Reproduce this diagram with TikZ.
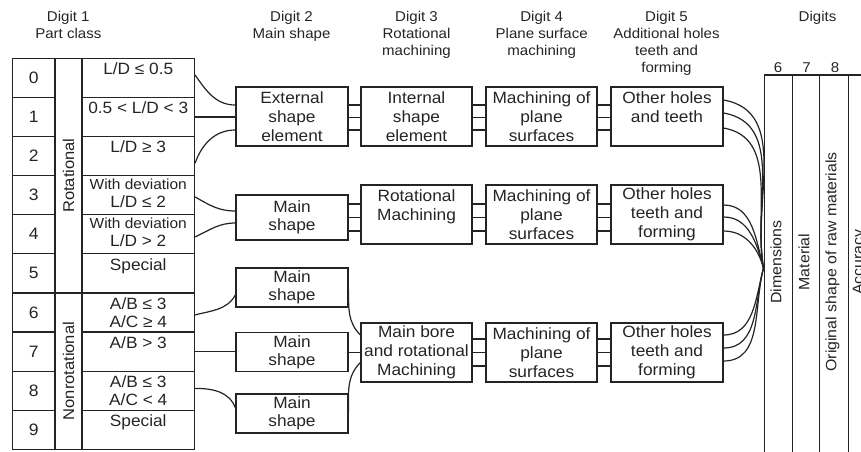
\documentclass[tikz,border=0pt]{standalone}
\usepackage{fontspec}
\setmainfont{Liberation Sans}[FakeStretch=1.06]
\usetikzlibrary{calc}
\definecolor{ink}{gray}{0.14}
\newcommand\setfs[2]{\fontsize{#1}{#2}\selectfont}
\tikzset{
  frame/.style={draw=ink, line width=1.2pt},
  cellbox/.style={frame, inner sep=0pt, minimum height=39.1pt},
  stagebox/.style={frame, inner sep=0pt, align=center, font=\setfs{16.3}{19}},
  head/.style={align=center, anchor=north, inner sep=0pt, font=\setfs{14.2}{16.7}},
  condtext/.style={align=center, anchor=north, inner sep=0pt, font=\setfs{16.3}{18}},
  vlab/.style={rotate=90, inner sep=0pt, font=\setfs{15}{18}},
  link/.style={draw=ink, line width=1.2pt},
}
\begin{document}
\begin{tikzpicture}[x=1pt,y=-1pt,color=ink]
\useasboundingbox (0,0) rectangle (861,451);
\clip (0,0) rectangle (861,451);

% ---- column headings
\node[head] (h1) at (68.3,11.5) {Digit 1\\Part class};
\node[head] (h2) at (291.5,11.5) {Digit 2\\Main shape};
\node[head] (h3) at (416.5,11.5) {Digit 3\\Rotational\\machining};
\node[head] (h4) at (541.7,11.5) {Digit 4\\Plane surface\\machining};
\node[head] (h5) at (666.5,11.5) {Digit 5\\Additional holes\\teeth and\\forming};
\node[head] (h6) at (817.5,11.5) {Digits};
\node[inner sep=0pt, font=\setfs{14.2}{16.7}] (n6) at (778,67.7) {6};
\node[inner sep=0pt, font=\setfs{14.2}{16.7}] (n7) at (806.5,67.7) {7};
\node[inner sep=0pt, font=\setfs{14.2}{16.7}] (n8) at (835,67.7) {8};

% ---- digit 1: part class table
\foreach \i in {0,...,9} {
  \node[cellbox, minimum width=42.3pt, font=\setfs{16.5}{19}] (d\i) at (33.85,{77.85+39.1*\i}) {\i};
  \node[cellbox, minimum width=112.5pt] (c\i) at (138.25,{77.85+39.1*\i}) {};
}
\node[frame, rotate=90, inner sep=0pt, minimum width=234.6pt, minimum height=27pt,
      font=\setfs{15.6}{18}] (rot) at (68.5,175.6) {Rotational};
\node[frame, rotate=90, inner sep=0pt, minimum width=156.4pt, minimum height=27pt,
      font=\setfs{15.6}{18}] (nrot) at (68.5,371.1) {Nonrotational};

\node[condtext] (t0) at ([yshift=-5pt]c0.north) {L/D ≤ 0.5};
\node[condtext] (t1) at ([yshift=-5pt]c1.north) {0.5 < L/D < 3};
\node[condtext] (t2) at ([yshift=-5pt]c2.north) {L/D ≥ 3};
\node[condtext] (t3) at ([yshift=-3.5pt]c3.north) {{\setfs{14.6}{18}With deviation}\\L/D ≤ 2};
\node[condtext] (t4) at ([yshift=-3.5pt]c4.north) {{\setfs{14.6}{18}With deviation}\\L/D > 2};
\node[condtext] (t5) at ([yshift=-5pt]c5.north) {Special};
\node[condtext] (t6) at ([yshift=-5.5pt]c6.north) {A/B ≤ 3\\A/C ≥ 4};
\node[condtext] (t7) at ([yshift=-5pt]c7.north) {A/B > 3};
\node[condtext] (t8) at ([yshift=-4.5pt]c8.north) {A/B ≤ 3\\A/C < 4};
\node[condtext] (t9) at ([yshift=-4.5pt]c9.north) {Special};

% ---- stage boxes, upper chain
\node[stagebox, minimum width=112pt, minimum height=59pt] (es) at (292,116.5) {External\\shape\\element};
\node[stagebox, minimum width=111pt, minimum height=59pt] (is) at (416.5,116.5) {Internal\\shape\\element};
\node[stagebox, minimum width=111pt, minimum height=59pt] (mpa) at (541.5,116.5) {Machining of\\plane\\surfaces};
\node[stagebox, minimum width=112pt, minimum height=59pt] (oha) at (667,116.5) {Other holes\\and teeth\\\mbox{}};

% ---- middle chain
\node[stagebox, minimum width=112pt, minimum height=45pt, font=\setfs{16.3}{18}] (ms) at (292,217.5) {Main\\shape};
\node[stagebox, minimum width=111pt, minimum height=59pt] (rm) at (416.5,214.5) {Rotational\\Machining\\\mbox{}};
\node[stagebox, minimum width=111pt, minimum height=59pt] (mpb) at (541.5,214.5) {Machining of\\plane\\surfaces};
\node[stagebox, minimum width=112pt, minimum height=59pt] (ohb) at (667,214.5) {Other holes\\teeth and\\forming};

% ---- lower chain
\node[stagebox, minimum width=112pt, minimum height=39pt, font=\setfs{16.3}{18}] (msa) at (292,287.5) {Main\\shape};
\node[stagebox, minimum width=112pt, minimum height=39pt, font=\setfs{16.3}{18}] (msb) at (292,352.2) {Main\\shape};
\node[stagebox, minimum width=112pt, minimum height=39pt, font=\setfs{16.3}{18}] (msc) at (292,413.4) {Main\\shape};
\node[stagebox, minimum width=111pt, minimum height=59pt] (mb) at (416.5,352.5) {Main bore\\and rotational\\Machining};
\node[stagebox, minimum width=111pt, minimum height=59pt] (mpc) at (541.5,352.5) {Machining of\\plane\\surfaces};
\node[stagebox, minimum width=112pt, minimum height=59pt] (ohc) at (667,352.5) {Other holes\\teeth and\\forming};

% ---- digits 6 to 9 columns
\draw[link] (764.3,75) -- (870,75);
\foreach \x in {764.3,792.3,819.3,848.3} \draw[link] (\x,75) -- (\x,460);
\node[vlab] (dim) at (776,262) {Dimensions};
\node[vlab] (mat) at (804,262) {Material};
\node[vlab] (raw) at (832.5,262) {Original shape of raw materials};
\node[vlab] (acc) at (859.5,262) {Accuracy};
\coordinate (hub) at (763.5,268);

% ---- part class to main shape
\draw[link] ([yshift=2.85pt]c0.east) to[out=-55,in=180] ([yshift=11.5pt]es.west);
\draw[link] (c1.east) -- (c1.east -| es.west);
\draw[link] ([yshift=-7pt]c2.east) to[out=70,in=180] ([yshift=-13.5pt]es.west);
\draw[link] ([yshift=-1.75pt]c3.east) to[out=-30,in=180] ([yshift=6.5pt]ms.west);
\draw[link] ([yshift=-2.65pt]c4.east) to[out=25,in=180] ([yshift=-5.5pt]ms.west);
\draw[link] ([yshift=-2.5pt]c6.east) to[out=15,in=-120] ([yshift=-7.5pt]msa.west);
\draw[link] (c7.east) -- (c7.east -| msb.west);
\draw[link] ([yshift=2.25pt]c8.east) to[out=0,in=110] ([yshift=5.4pt]msc.west);

% ---- triple links along the chains
\foreach \s [count=\k] in {11.5,-0.8,-13.5} {
  \coordinate (ua\k) at ([yshift=\s pt]es.east);
  \draw[link] (ua\k) -- (ua\k -| is.west);
  \draw[link] (ua\k -| is.east) -- (ua\k -| mpa.west);
  \draw[link] (ua\k -| mpa.east) -- (ua\k -| oha.west);
}
\foreach \s [count=\k] in {13.5,0,-13.5} {
  \coordinate (ub\k) at ([yshift=\s pt]ms.east);
  \draw[link] (ub\k) -- (ub\k -| rm.west);
  \draw[link] (ub\k -| rm.east) -- (ub\k -| mpb.west);
  \draw[link] (ub\k -| mpb.east) -- (ub\k -| ohb.west);
  \coordinate (uc\k) at ([yshift=\s pt]mb.east);
  \draw[link] (uc\k) -- (uc\k -| mpc.west);
  \draw[link] (uc\k -| mpc.east) -- (uc\k -| ohc.west);
}

% ---- main shapes into main bore
\draw[link] ([yshift=-2pt]msa.east) to[out=-90,in=135] ([yshift=17.5pt]mb.west);
\draw[link] (msb.east) -- (msb.east -| mb.west);
\draw[link] ([yshift=1.4pt]msc.east) to[out=90,in=-135] ([yshift=-10pt]mb.west);

% ---- digit 5 boxes into the remaining digits
\foreach \s in {16.5,3.5,-11.5}
  \draw[link] ([yshift=\s pt]oha.east) to[out=-10,in=100] (hub);
\foreach \s in {9.5,-2.5,-16.5}
  \draw[link] ([yshift=\s pt]ohb.east) to[out=0,in=105] (hub);
\foreach \s in {17.5,4.5,-8.5}
  \draw[link] ([yshift=\s pt]ohc.east) to[out=0,in=-105] (hub);
\end{tikzpicture}
\end{document}
